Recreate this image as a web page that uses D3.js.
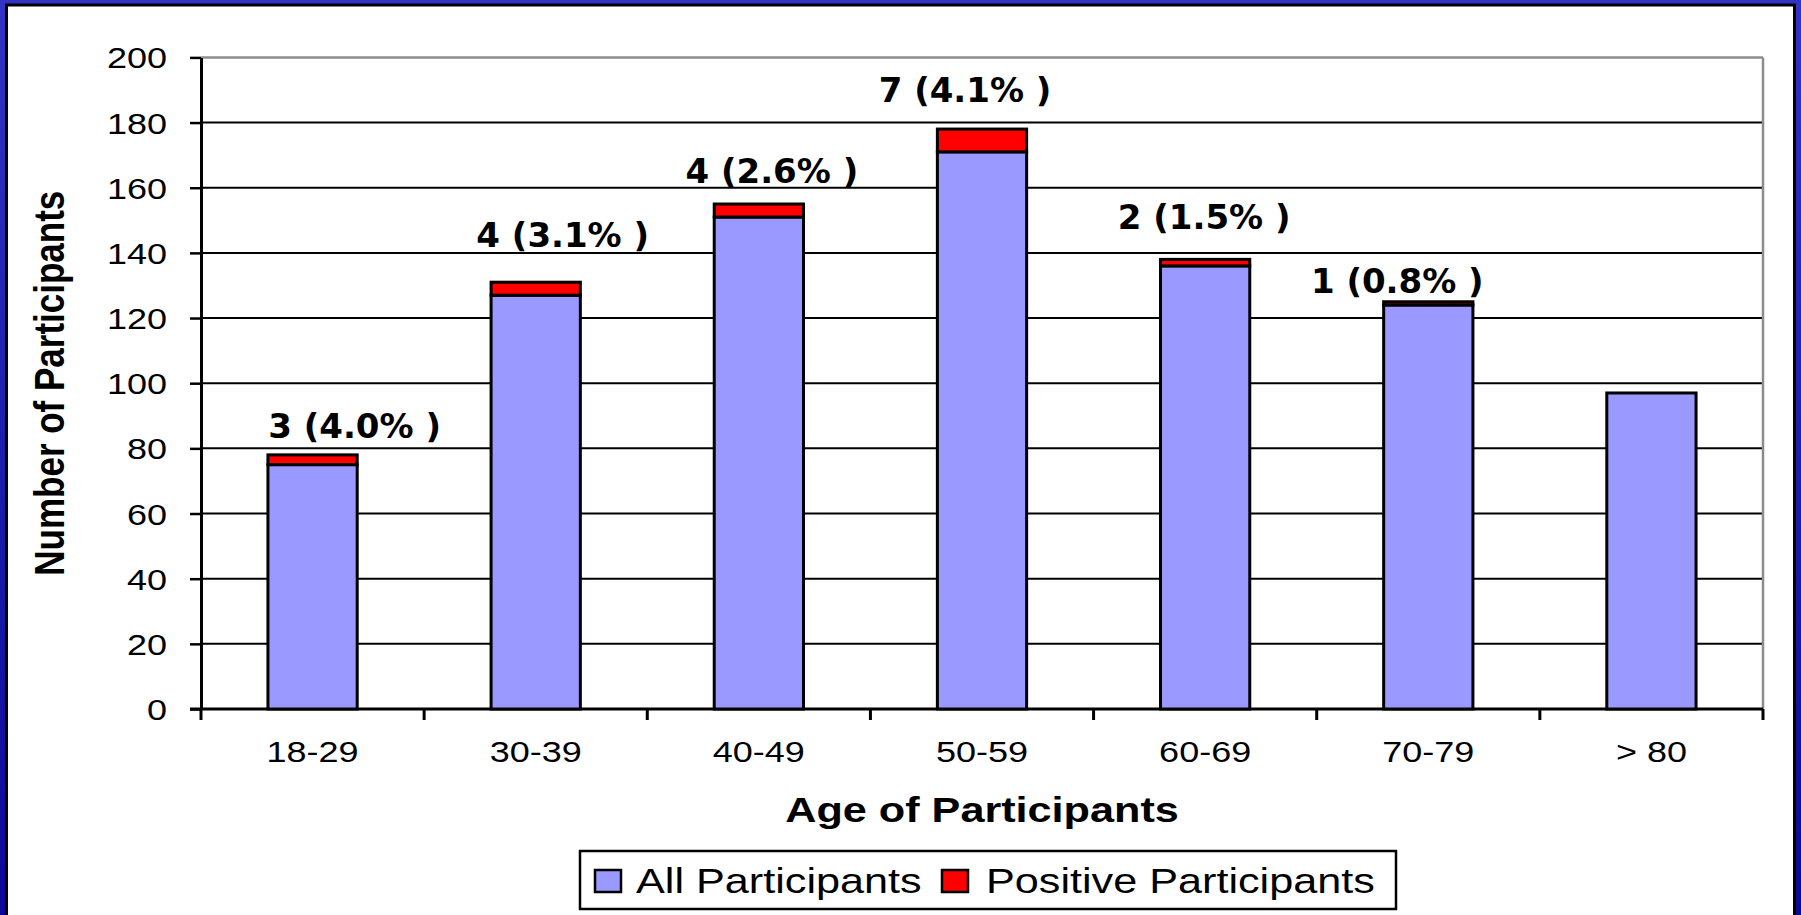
<!DOCTYPE html>
<html>
<head>
<meta charset="utf-8">
<script src="https://cdn.jsdelivr.net/npm/d3@7"></script>
<style>
  html, body { margin: 0; padding: 0; background: #fff; overflow: hidden; }
  svg { display: block; }
</style>
</head>
<body>
<svg id="chart" width="1801" height="915"></svg>
<script>
// ---- data ----
const categories = ["18-29", "30-39", "40-49", "50-59", "60-69", "70-79", "> 80"];
const allParticipants = [75, 127, 151, 171, 136, 124, 97];
const positiveParticipants = [3, 4, 4, 7, 2, 1, 0];
const yTicks = [0, 20, 40, 60, 80, 100, 120, 140, 160, 180, 200];
const seriesNames = ["All Participants", "Positive Participants"];

// ---- layout (not data) ----
const W = 1801, H = 915;
const plot = { left: 201, right: 1763, top: 57.4, bottom: 709 };
const SX = 1.2; // horizontal stretch of the original slide text
// manual label nudges (px) relative to bar centre / bar top, as placed in the original
const labelNudgeX = [42, 27, 13, -17, -1, -31, 0];
const labelNudgeY = [-17, -35, -21, -27, -30, -9, 0];
const colors = { all: "#9999FF", pos: "#FF0000" };

const svg = d3.select("#chart");

// frame
const defs = svg.append("defs");
const grad = defs.append("linearGradient").attr("id", "frameGrad")
  .attr("x1", 0).attr("y1", 0).attr("x2", 0).attr("y2", 1);
grad.append("stop").attr("offset", "0%").attr("stop-color", "#3232c4");
grad.append("stop").attr("offset", "100%").attr("stop-color", "#0a0a96");
svg.append("rect").attr("x", 0).attr("y", 0).attr("width", W).attr("height", H)
  .attr("fill", "url(#frameGrad)");
svg.append("rect").attr("x", 6.5).attr("y", 5).attr("width", W - 13).attr("height", H + 20)
  .attr("fill", "#fff").attr("stroke", "#000").attr("stroke-width", 3);

// scales
const x = d3.scaleBand().domain(categories)
  .range([plot.left, plot.right]).paddingInner(0.6).paddingOuter(0.3);
const step = x.step();
const y = d3.scaleLinear().domain([0, 200]).range([plot.bottom, plot.top]);

const g = svg.append("g");

// gridlines (20..180 black), top border gray
g.append("g").selectAll("line").data(yTicks.filter(t => t > 0 && t < 200)).join("line")
  .attr("x1", plot.left).attr("x2", plot.right)
  .attr("y1", d => y(d)).attr("y2", d => y(d))
  .attr("stroke", "#000").attr("stroke-width", 2);
g.append("line").attr("x1", plot.left).attr("x2", plot.right)
  .attr("y1", y(200)).attr("y2", y(200)).attr("stroke", "#8c8c8c").attr("stroke-width", 2.5);
g.append("line").attr("x1", plot.right).attr("x2", plot.right)
  .attr("y1", y(200)).attr("y2", y(0)).attr("stroke", "#8c8c8c").attr("stroke-width", 2.5);

// y axis
const yAxis = d3.axisLeft(y).tickValues(yTicks).tickSize(11).tickSizeOuter(0).tickFormat(d3.format("d"));
const yg = g.append("g").attr("transform", `translate(${plot.left},0)`).call(yAxis);
yg.select(".domain").attr("stroke", "#000").attr("stroke-width", 3);
yg.selectAll(".tick line").attr("stroke", "#000").attr("stroke-width", 2.5);
yg.selectAll(".tick text").each(function(d) {
  const t = d3.select(this);
  t.attr("x", null).attr("dy", null)
   .attr("transform", `translate(-34,10.5) scale(${SX},1)`)
   .attr("font-family", "Liberation Sans, Arial, sans-serif")
   .attr("font-size", 30).attr("fill", "#000").attr("text-anchor", "end");
});

// x axis: ticks at category boundaries
g.append("line").attr("x1", plot.left - 11).attr("x2", plot.right)
  .attr("y1", y(0)).attr("y2", y(0)).attr("stroke", "#000").attr("stroke-width", 3);
const bounds = d3.range(categories.length + 1).map(i => plot.left + i * step);
g.append("g").selectAll("line").data(bounds).join("line")
  .attr("x1", d => d).attr("x2", d => d)
  .attr("y1", y(0)).attr("y2", y(0) + 11)
  .attr("stroke", "#000").attr("stroke-width", 3);
g.append("g").selectAll("text").data(categories).join("text")
  .attr("transform", d => `translate(${x(d) + x.bandwidth() / 2},762) scale(${SX},1)`)
  .attr("text-anchor", "middle")
  .attr("font-family", "Liberation Sans, Arial, sans-serif")
  .attr("font-size", 30).attr("fill", "#000")
  .text(d => d);

// bars
const rows = categories.map((c, i) => ({ c, all: allParticipants[i], pos: positiveParticipants[i], i }));
const bars = g.append("g");
bars.selectAll("rect.all").data(rows).join("rect").attr("class", "all")
  .attr("x", d => x(d.c)).attr("width", x.bandwidth())
  .attr("y", d => y(d.all)).attr("height", d => y(0) - y(d.all))
  .attr("fill", colors.all).attr("stroke", "#000").attr("stroke-width", 3);
bars.selectAll("rect.pos").data(rows.filter(d => d.pos > 0)).join("rect").attr("class", "pos")
  .attr("x", d => x(d.c)).attr("width", x.bandwidth())
  .attr("y", d => y(d.all + d.pos)).attr("height", d => y(d.all) - y(d.all + d.pos))
  .attr("fill", colors.pos).attr("stroke", "#000").attr("stroke-width", 3);

// bar labels
g.append("g").selectAll("text").data(rows.filter(d => d.pos > 0)).join("text")
  .attr("transform", d => `translate(${x(d.c) + x.bandwidth() / 2 + labelNudgeX[d.i]},${y(d.all + d.pos) + labelNudgeY[d.i]})`)
  .attr("text-anchor", "middle")
  .attr("font-family", "DejaVu Sans, sans-serif").attr("font-weight", "bold")
  .attr("font-size", 34).attr("fill", "#000")
  .text(d => `${d.pos} (${(d.pos / d.all * 100).toFixed(1)}% )`);

// axis titles
svg.append("text")
  .attr("transform", `translate(${(plot.left + plot.right) / 2},822) scale(${SX},1)`)
  .attr("text-anchor", "middle")
  .attr("font-family", "Liberation Sans, Arial, sans-serif").attr("font-weight", "bold")
  .attr("font-size", 36).attr("fill", "#000")
  .text("Age of Participants");
svg.append("text")
  .attr("transform", `translate(64,${(plot.top + plot.bottom) / 2}) scale(${SX},1) rotate(-90)`)
  .attr("text-anchor", "middle")
  .attr("font-family", "Liberation Sans, Arial, sans-serif").attr("font-weight", "bold")
  .attr("font-size", 35).attr("fill", "#000")
  .text("Number of Participants");

// legend
const lg = svg.append("g");
lg.append("rect").attr("x", 580).attr("y", 851).attr("width", 816).attr("height", 58)
  .attr("fill", "#fff").attr("stroke", "#000").attr("stroke-width", 2.5);
const legendItems = [
  { name: seriesNames[0], color: colors.all, sx: 595, tx: 636 },
  { name: seriesNames[1], color: colors.pos, sx: 942, tx: 986 }
];
legendItems.forEach(it => {
  lg.append("rect").attr("x", it.sx).attr("y", 870).attr("width", 26).attr("height", 22)
    .attr("fill", it.color).attr("stroke", "#000").attr("stroke-width", 2.5);
  lg.append("text")
    .attr("transform", `translate(${it.tx},893) scale(${SX},1)`)
    .attr("font-family", "Liberation Sans, Arial, sans-serif")
    .attr("font-size", 36).attr("fill", "#000")
    .text(it.name);
});
</script>
</body>
</html>
